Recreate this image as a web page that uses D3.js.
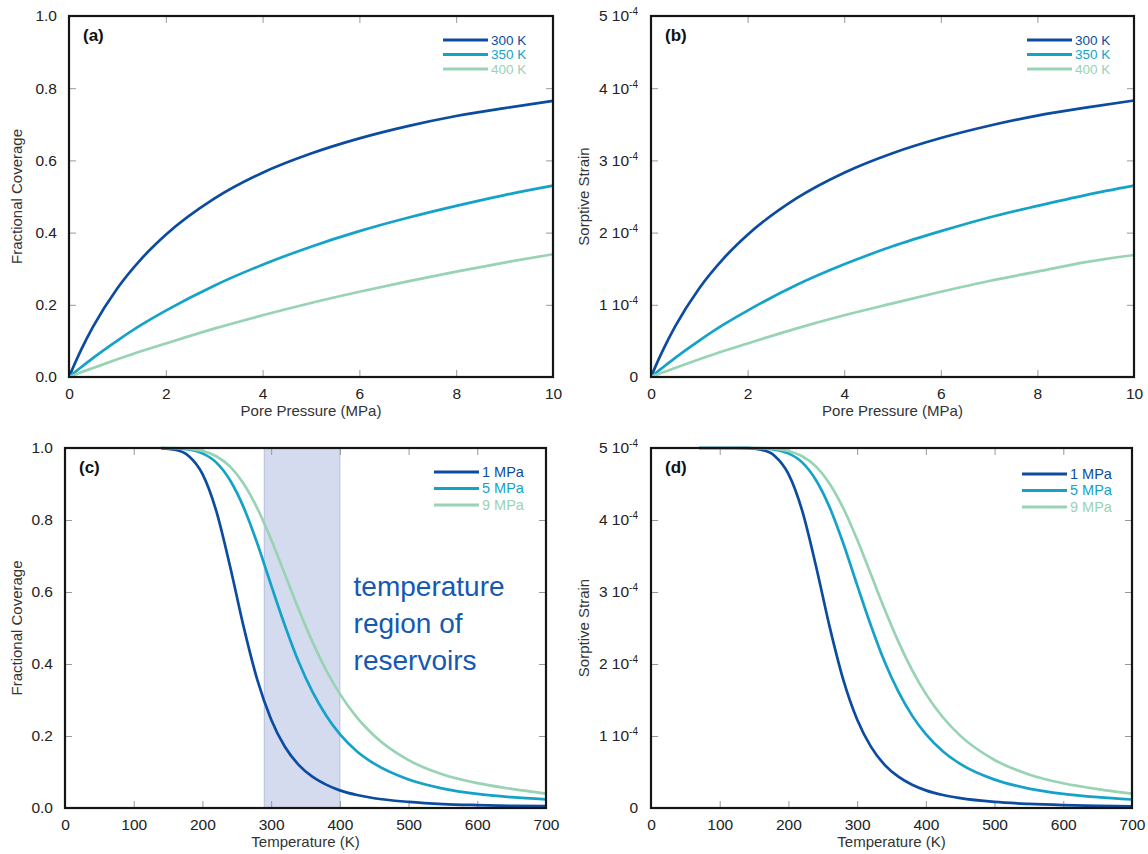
<!DOCTYPE html>
<html>
<head>
<meta charset="utf-8">
<script src="https://cdn.jsdelivr.net/npm/d3@7"></script>
<style>
	body { margin: 0; background: #fff; }
	svg { font-family: "Liberation Sans", Arial, sans-serif; }
</style>
</head>
<body>
<svg id="fig" width="1148" height="854"></svg>
<script>
// ---- data ----
// top row: pore pressure (MPa)
const pressure = [0, 0.1, 0.25, 0.5, 1, 1.5, 2, 3, 4, 5, 6, 7, 8, 9, 10];
const coverage300K = [0, 0.031, 0.075, 0.14, 0.246, 0.328, 0.394, 0.494, 0.566, 0.619, 0.661, 0.695, 0.723, 0.745, 0.765];
const coverage350K = [0, 0.011, 0.027, 0.053, 0.101, 0.145, 0.184, 0.253, 0.311, 0.361, 0.404, 0.441, 0.474, 0.504, 0.530];
const coverage400K = [0, 0.005, 0.013, 0.025, 0.049, 0.072, 0.093, 0.134, 0.171, 0.205, 0.236, 0.265, 0.292, 0.317, 0.340];
// sorptive strain, in units of 10^-4
const strain300K = [0, 0.157, 0.375, 0.70, 1.23, 1.64, 1.97, 2.47, 2.83, 3.10, 3.31, 3.48, 3.62, 3.73, 3.83];
const strain350K = [0, 0.056, 0.135, 0.265, 0.505, 0.725, 0.92, 1.27, 1.56, 1.81, 2.02, 2.21, 2.37, 2.52, 2.65];
const strain400K = [0, 0.026, 0.065, 0.125, 0.245, 0.36, 0.465, 0.67, 0.855, 1.02, 1.18, 1.33, 1.46, 1.59, 1.69];

// bottom row: temperature (K)
const temperatureC = [140, 160, 180, 200, 220, 240, 260, 280, 300, 320, 340, 360, 380, 400, 425, 450, 500, 550, 600, 650, 700];
const coverage1MPa = [0.999, 0.995, 0.978, 0.928, 0.826, 0.673, 0.503, 0.355, 0.246, 0.170, 0.120, 0.087, 0.065, 0.049, 0.036, 0.027, 0.017, 0.011, 0.008, 0.006, 0.005];
const coverage5MPa = [1.0, 0.999, 0.996, 0.985, 0.960, 0.911, 0.835, 0.734, 0.619, 0.507, 0.406, 0.323, 0.257, 0.205, 0.157, 0.123, 0.079, 0.054, 0.039, 0.030, 0.024];
const coverage9MPa = [1.0, 1.0, 0.998, 0.992, 0.977, 0.949, 0.901, 0.832, 0.746, 0.649, 0.552, 0.462, 0.383, 0.317, 0.251, 0.201, 0.133, 0.093, 0.069, 0.053, 0.040];

const temperatureD = [70, 100, 120, 140, 160, 180, 200, 220, 240, 260, 280, 300, 320, 340, 360, 380, 400, 425, 450, 500, 550, 600, 650, 700];
const strain1MPa = [5.0, 5.0, 5.0, 4.997, 4.976, 4.89, 4.64, 4.13, 3.365, 2.515, 1.775, 1.228, 0.852, 0.60, 0.435, 0.323, 0.245, 0.18, 0.136, 0.084, 0.057, 0.041, 0.031, 0.024];
const strain5MPa = [5.0, 5.0, 5.0, 5.0, 4.995, 4.978, 4.925, 4.80, 4.555, 4.175, 3.67, 3.095, 2.535, 2.03, 1.615, 1.283, 1.025, 0.786, 0.613, 0.394, 0.27, 0.196, 0.15, 0.118];
const strain9MPa = [5.0, 5.0, 5.0, 5.0, 4.998, 4.988, 4.958, 4.885, 4.745, 4.505, 4.16, 3.728, 3.245, 2.76, 2.31, 1.915, 1.585, 1.257, 1.005, 0.667, 0.466, 0.343, 0.263, 0.20];

const pressureTicks = [0, 2, 4, 6, 8, 10];
const temperatureTicks = [0, 100, 200, 300, 400, 500, 600, 700];
const coverageTicks = [0, 0.2, 0.4, 0.6, 0.8, 1.0];
const strainTicks = [0, 1, 2, 3, 4, 5];
const tempLabels = ["300 K", "350 K", "400 K"];
const pressLabels = ["1 MPa", "5 MPa", "9 MPa"];
const reservoirRange = [290, 400];
const noteLines = ["temperature", "region of", "reservoirs"];

const colors = ["#0c4ca0", "#15a2c9", "#98d3b4"];

const svg = d3.select("#fig");

function drawPanel(p) {
	const x = d3.scaleLinear().domain(p.xDomain).range([p.x0, p.x1]);
	const y = d3.scaleLinear().domain(p.yDomain).range([p.y1, p.y0]);
	const g = svg.append("g");
	const innerX = p.xTicks.slice(1, -1);
	const innerY = p.yTicks.slice(1, -1);

	// shaded band (panel c)
	if (p.band) {
		g.append("rect")
			.attr("x", x(p.band[0])).attr("y", p.y0)
			.attr("width", x(p.band[1]) - x(p.band[0])).attr("height", p.y1 - p.y0)
			.attr("fill", "#d4dbef").attr("stroke", "#b4bedc").attr("stroke-width", 1);
	}

	// inward ticks on all four sides
	const tickStyle = sel => {
		sel.select(".domain").remove();
		sel.selectAll(".tick line").attr("stroke", "#999").attr("stroke-width", 1);
	};
	g.append("g").attr("transform", `translate(0,${p.y1})`)
		.call(d3.axisBottom(x).tickValues(innerX).tickSize(-7).tickFormat("")).call(tickStyle);
	g.append("g").attr("transform", `translate(0,${p.y0})`)
		.call(d3.axisTop(x).tickValues(innerX).tickSize(-7).tickFormat("")).call(tickStyle);
	g.append("g").attr("transform", `translate(${p.x0},0)`)
		.call(d3.axisLeft(y).tickValues(innerY).tickSize(-7).tickFormat("")).call(tickStyle);
	g.append("g").attr("transform", `translate(${p.x1},0)`)
		.call(d3.axisRight(y).tickValues(innerY).tickSize(-7).tickFormat("")).call(tickStyle);

	// tick labels
	const labelStyle = sel => {
		sel.select(".domain").remove();
		sel.selectAll(".tick line").remove();
		sel.selectAll(".tick text").attr("font-size", 15.5).attr("fill", "#222")
			.attr("font-family", "Liberation Sans, Arial, sans-serif");
	};
	g.append("g").attr("transform", `translate(0,${p.y1})`)
		.call(d3.axisBottom(x).tickValues(p.xTicks).tickSize(0).tickPadding(11)).call(labelStyle);
	const yAxis = g.append("g").attr("transform", `translate(${p.x0},0)`)
		.call(d3.axisLeft(y).tickValues(p.yTicks).tickSize(0).tickPadding(p.yPad)
			.tickFormat(p.yFormat)).call(labelStyle);
	if (p.sci) {
		yAxis.selectAll(".tick text").each(function(d) {
			if (d === 0) return;
			const t = d3.select(this).text("");
			t.append("tspan").text(d + " 10");
			t.append("tspan").attr("font-size", 10).attr("dy", "-0.6em").text("-4");
		});
	}

	// lines
	const line = d3.line().x(d => x(d[0])).y(d => y(d[1])).curve(d3.curveMonotoneX);
	p.series.forEach((s, i) => {
		g.append("path")
			.attr("d", line(p.xs.map((v, j) => [v, s[j]])))
			.attr("fill", "none").attr("stroke", colors[i]).attr("stroke-width", 2.7)
			.attr("stroke-linejoin", "round");
	});

	// frame
	g.append("rect").attr("x", p.x0).attr("y", p.y0)
		.attr("width", p.x1 - p.x0).attr("height", p.y1 - p.y0)
		.attr("fill", "none").attr("stroke", "#151515").attr("stroke-width", 2.2);

	// axis titles
	g.append("text").attr("x", (p.x0 + p.x1) / 2).attr("y", p.y1 + 39)
		.attr("text-anchor", "middle").attr("font-size", 15).attr("fill", "#333").text(p.xTitle);
	g.append("text")
		.attr("transform", `translate(${p.yTitleX},${(p.y0 + p.y1) / 2}) rotate(-90)`)
		.attr("text-anchor", "middle").attr("font-size", 15).attr("fill", "#333").text(p.yTitle);

	// panel tag
	g.append("text").attr("x", p.x0 + 14).attr("y", p.y0 + 25)
		.attr("font-size", 17).attr("font-weight", "bold").attr("fill", "#111").text(p.tag);

	// legend
	p.legend.forEach((lab, i) => {
		const ly = p.legendY + i * p.legendGap;
		g.append("line").attr("x1", p.legendX).attr("x2", p.legendX + 45)
			.attr("y1", ly).attr("y2", ly)
			.attr("stroke", colors[i]).attr("stroke-width", 3);
		g.append("text").attr("x", p.legendX + 48).attr("y", ly + 4.5)
			.attr("font-size", p.legendFont).attr("fill", colors[i]).text(lab);
	});

	if (p.note) {
		g.append("text").attr("font-size", 28).attr("fill", "#1559b2")
			.selectAll("tspan").data(p.note).join("tspan")
			.attr("x", x(p.noteAt)).attr("y", (d, i) => p.noteY + i * 37).text(d => d);
	}
}

drawPanel({
	tag: "(a)", x0: 69, x1: 553, y0: 16, y1: 377,
	xDomain: [0, 10], yDomain: [0, 1], xTicks: pressureTicks, yTicks: coverageTicks,
	yFormat: d3.format(".1f"), yPad: 12, yTitleX: 22,
	xs: pressure, series: [coverage300K, coverage350K, coverage400K],
	xTitle: "Pore Pressure (MPa)", yTitle: "Fractional Coverage",
	legend: tempLabels, legendX: 443, legendY: 40, legendGap: 14.5, legendFont: 13.5
});
drawPanel({
	tag: "(b)", x0: 651, x1: 1134, y0: 16, y1: 377,
	xDomain: [0, 10], yDomain: [0, 5], xTicks: pressureTicks, yTicks: strainTicks,
	yFormat: d3.format("d"), yPad: 13, sci: true, yTitleX: 589,
	xs: pressure, series: [strain300K, strain350K, strain400K],
	xTitle: "Pore Pressure (MPa)", yTitle: "Sorptive Strain",
	legend: tempLabels, legendX: 1027, legendY: 40, legendGap: 14.5, legendFont: 13.5
});
drawPanel({
	tag: "(c)", x0: 65, x1: 546, y0: 448, y1: 808,
	xDomain: [0, 700], yDomain: [0, 1], xTicks: temperatureTicks, yTicks: coverageTicks,
	yFormat: d3.format(".1f"), yPad: 12, yTitleX: 22,
	xs: temperatureC, series: [coverage1MPa, coverage5MPa, coverage9MPa],
	xTitle: "Temperature (K)", yTitle: "Fractional Coverage",
	legend: pressLabels, legendX: 434, legendY: 472, legendGap: 16.5, legendFont: 14.5,
	band: reservoirRange, note: noteLines, noteAt: 420, noteY: 596
});
drawPanel({
	tag: "(d)", x0: 651, x1: 1132, y0: 448, y1: 808,
	xDomain: [0, 700], yDomain: [0, 5], xTicks: temperatureTicks, yTicks: strainTicks,
	yFormat: d3.format("d"), yPad: 13, sci: true, yTitleX: 589,
	xs: temperatureD, series: [strain1MPa, strain5MPa, strain9MPa],
	xTitle: "Temperature (K)", yTitle: "Sorptive Strain",
	legend: pressLabels, legendX: 1022, legendY: 474, legendGap: 16.5, legendFont: 14.5
});
</script>
</body>
</html>
